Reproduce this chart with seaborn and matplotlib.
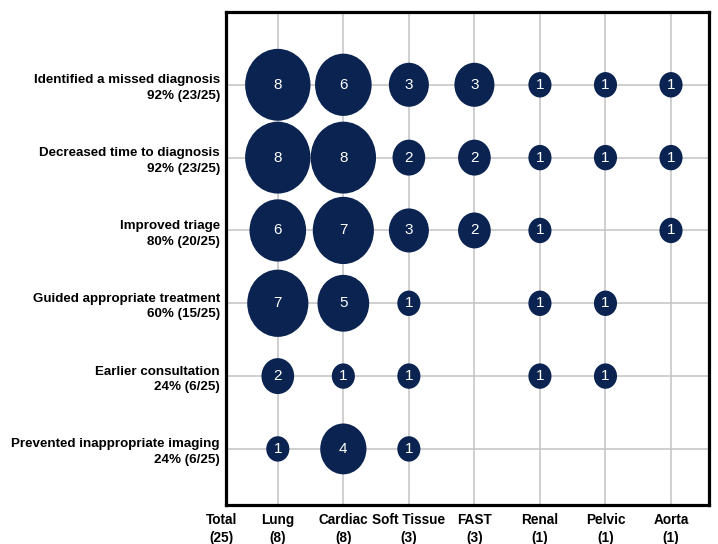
import numpy as np
import pandas as pd
import matplotlib
matplotlib.use("Agg")
import matplotlib.pyplot as plt
from matplotlib.path import Path
from matplotlib.transforms import Affine2D
import seaborn as sns

# ---- data ----
benefits = [
    "Identified a missed diagnosis\n92% (23/25)",
    "Decreased time to diagnosis\n92% (23/25)",
    "Improved triage\n80% (20/25)",
    "Guided appropriate treatment\n60% (15/25)",
    "Earlier consultation\n24% (6/25)",
    "Prevented inappropriate imaging\n24% (6/25)",
]
applications = ["Lung", "Cardiac", "Soft Tissue", "FAST", "Renal", "Pelvic", "Aorta"]
app_totals = [8, 8, 3, 3, 1, 1, 1]
total_label = "Total\n(25)"

lung = [8, 8, 6, 7, 2, 1]
cardiac = [6, 8, 7, 5, 1, 4]
soft_tissue = [3, 2, 3, 1, 1, 1]
fast = [3, 2, 2, 0, 0, 0]
renal = [1, 1, 1, 1, 1, 0]
pelvic = [1, 1, 0, 1, 1, 0]
aorta = [1, 1, 1, 0, 0, 0]

series = [lung, cardiac, soft_tissue, fast, renal, pelvic, aorta]

rows = []
for ci, vals in enumerate(series):
    for ri, v in enumerate(vals):
        if v > 0:
            rows.append({"x": ci + 1, "y": ri, "count": v})
df = pd.DataFrame(rows)

# ---- style ----
sns.set_style("white")
plt.rcParams["font.family"] = ["Liberation Sans Narrow", "Liberation Sans", "DejaVu Sans"]
plt.rcParams["text.color"] = "black"
plt.rcParams["xtick.color"] = "black"
plt.rcParams["ytick.color"] = "black"

navy = "#0a2351"

fig = plt.figure(figsize=(7.18, 5.44), dpi=100)
ax = fig.add_axes([0.3148, 0.0717, 0.9875 - 0.3148, 0.978 - 0.0717])

# ellipse marker (slightly taller than wide)
circ = Path.unit_circle()
ell = Affine2D().scale(1.0, 1.1).transform_path(circ)

size_map = {n: 335 * n for n in sorted(df["count"].unique())}
sns.scatterplot(data=df, x="x", y="y", size="count", sizes=size_map,
                marker=ell, color=navy, linewidth=0, legend=False, ax=ax,
                zorder=3)

for _, r in df.iterrows():
    ax.text(r["x"], r["y"], str(int(r["count"])), ha="center", va="center",
            color="white", fontsize=11, family=["Liberation Sans", "DejaVu Sans"],
            zorder=4)

ax.set_xlim(0.21, 7.58)
ax.set_ylim(5.77, -1.0)
ax.set_xticks(range(1, 8))
ax.set_xticklabels([f"{a}\n({t})" for a, t in zip(applications, app_totals)],
                   fontsize=9.8, fontweight="bold", linespacing=1.35)
ax.set_yticks(range(len(benefits)))
ax.set_yticklabels(benefits, fontsize=9.6, fontweight="bold", linespacing=1.4)
ax.tick_params(axis="x", length=0, pad=6)
ax.tick_params(axis="y", length=0, pad=4.5)
ax.set_xlabel("")
ax.set_ylabel("")

ax.set_axisbelow(True)
ax.grid(True, color="#c2c2c2", linewidth=1.1)
for s in ax.spines.values():
    s.set_visible(True)
    s.set_color("black")
    s.set_linewidth(2.3)

ax.annotate(total_label, xy=(0.145, 0), xycoords=("data", "axes fraction"),
            xytext=(0, -6), textcoords="offset points", ha="center", va="top",
            fontsize=9.8, fontweight="bold", linespacing=1.35, annotation_clip=False)

fig.savefig("out.png", dpi=100)
